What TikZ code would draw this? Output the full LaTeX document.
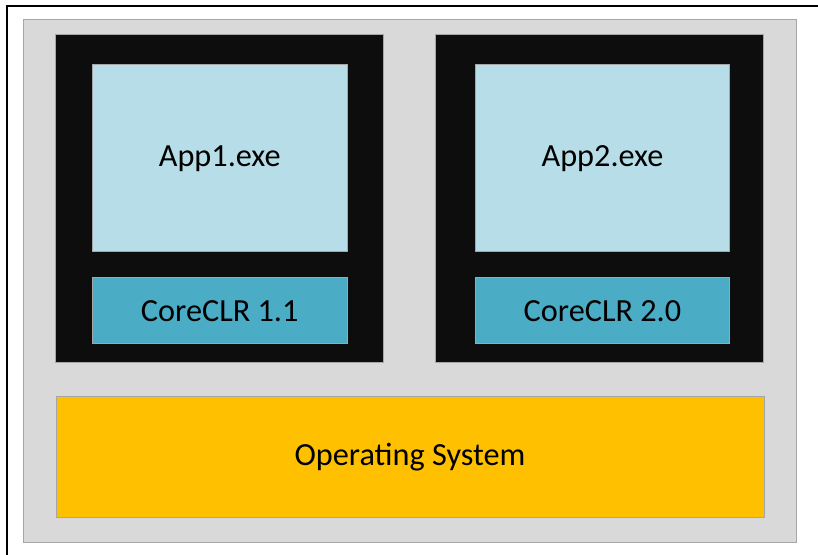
\documentclass[tikz,border=0pt]{standalone}
\usepackage{fontspec}
\setmainfont{Carlito}
\usetikzlibrary{positioning}
\definecolor{panelgray}{HTML}{D9D9D9}
\definecolor{edgegray}{HTML}{A6A6A6}
\definecolor{hostblack}{HTML}{0D0D0D}
\definecolor{applight}{HTML}{B7DDE8}
\definecolor{clrblue}{HTML}{4BACC6}
\definecolor{osyellow}{HTML}{FFC000}
\tikzset{
	block/.style={rectangle, draw=edgegray, line width=0.75pt, inner sep=0pt,
		font=\fontsize{24.2}{29}\selectfont},
	panel/.style={block, fill=panelgray, minimum width=579.75pt, minimum height=391.9pt},
	host/.style={block, fill=hostblack, minimum width=246pt, minimum height=246pt},
	app/.style={block, fill=applight, minimum width=191pt, minimum height=140.25pt},
	runtime/.style={block, fill=clrblue, minimum width=191pt, minimum height=49.5pt},
	os/.style={block, fill=osyellow, minimum width=531pt, minimum height=90.75pt},
	frame/.style={draw, line width=2pt}
}
\begin{document}
\begin{tikzpicture}[x=0.75pt, y=-0.75pt]
\useasboundingbox (0,0) rectangle (818,555);

\draw [frame] (7,555) -- (7,6) -- (818,6);

\node[panel] (panel) at (409.5,280.75) {};

\node[host] (host1) at (219,199) {};
\node[host] (host2) at (599.5,199) {};

\node[app] (app1) at (219.75,158.5) {App1.exe};
\node[app] (app2) at (602.5,158.5) {App2.exe};

\node[runtime, below = 18.75pt of app1] (clr1) {CoreCLR 1.1};
\node[runtime, below = 18.75pt of app2] (clr2) {CoreCLR 2.0};

\node[os] (os) at (410,457.5) {Operating System};

\end{tikzpicture}
\end{document}
